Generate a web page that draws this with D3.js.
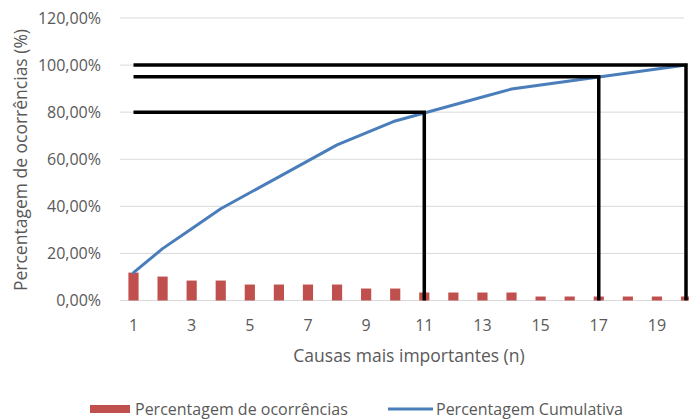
<!DOCTYPE html>
<html>
<head>
<meta charset="utf-8">
<script src="https://cdn.jsdelivr.net/npm/d3@7"></script>
<style>
  body { margin: 0; background: #fff; }
  svg { display: block; font-family: "Open Sans", sans-serif; }
</style>
</head>
<body>
<div id="chart"></div>
<script>
// causes 1..20, share of occurrences (%) and cumulative share (%)
const causes = d3.range(1, 21);
const occurrences = [11.86, 10.17, 8.47, 8.47, 6.78, 6.78, 6.78, 6.78, 5.08, 5.08,
  3.39, 3.39, 3.39, 3.39, 1.69, 1.69, 1.69, 1.69, 1.69, 1.69];
const cumulative = [11.86, 22.03, 30.51, 38.98, 45.76, 52.54, 59.32, 66.1, 71.19, 76.27,
  79.66, 83.05, 86.44, 89.83, 91.53, 93.22, 94.92, 96.61, 98.31, 100];
// reference lines: level (%) reached at cause n
const refLevels = [80, 95, 100];
const refCauses = [11, 17, 20];
const yTicks = [0, 20, 40, 60, 80, 100, 120];
const xTicks = [1, 3, 5, 7, 9, 11, 13, 15, 17, 19];

const width = 689;
const height = 420;

const svg = d3.select("#chart").append("svg")
  .attr("width", width)
  .attr("height", height);

const x = d3.scalePoint().domain(causes).range([133.5, 686]);
const y = d3.scaleLinear().domain([0, 120]).range([300.5, 18]);
const barW = x.step() * 0.35;

const ptLocale = d3.formatLocale({ decimal: ",", thousands: ".", grouping: [3], currency: ["", ""] });
const pct = ptLocale.format(".2f");

// gridlines
svg.append("g")
  .selectAll("line")
  .data(yTicks)
  .join("line")
  .attr("x1", 120).attr("x2", 684)
  .attr("y1", d => y(d)).attr("y2", d => y(d))
  .attr("stroke", "#d9d9d9")
  .attr("stroke-width", 1);

// y tick labels
svg.append("g")
  .selectAll("text")
  .data(yTicks)
  .join("text")
  .attr("x", 101)
  .attr("y", d => y(d))
  .attr("dy", "0.35em")
  .attr("text-anchor", "end")
  .attr("fill", "#595959")
  .attr("font-size", 16)
  .text(d => pct(d) + "%");

// x tick labels
svg.append("g")
  .selectAll("text")
  .data(xTicks)
  .join("text")
  .attr("x", d => x(d))
  .attr("y", 331)
  .attr("text-anchor", "middle")
  .attr("fill", "#595959")
  .attr("font-size", 16)
  .text(d => d);

// bars
svg.append("g")
  .selectAll("rect")
  .data(causes)
  .join("rect")
  .attr("x", d => x(d) - barW / 2)
  .attr("y", (d, i) => y(occurrences[i]))
  .attr("width", barW)
  .attr("height", (d, i) => y(0) - y(occurrences[i]))
  .attr("fill", "#c0504d");

// cumulative line
const line = d3.line()
  .x((d, i) => x(causes[i]))
  .y(d => y(d));

svg.append("path")
  .datum(cumulative)
  .attr("d", line)
  .attr("fill", "none")
  .attr("stroke", "#4a7ebb")
  .attr("stroke-width", 3)
  .attr("stroke-linejoin", "round")
  .attr("stroke-linecap", "round");

// black reference lines
const refs = svg.append("g")
  .attr("stroke", "#000")
  .attr("stroke-width", 3.5)
  .attr("fill", "none");

refLevels.forEach((lvl, i) => {
  refs.append("path")
    .attr("d", d3.line()([
      [x(causes[0]), y(lvl)],
      [x(refCauses[i]), y(lvl)],
      [x(refCauses[i]), y(0)]
    ]));
});

// axis titles
svg.append("text")
  .attr("transform", "translate(27,160) rotate(-90)")
  .attr("text-anchor", "middle")
  .attr("fill", "#595959")
  .attr("font-size", 17.5)
  .text("Percentagem de ocorrências (%)");

svg.append("text")
  .attr("x", 409)
  .attr("y", 362)
  .attr("text-anchor", "middle")
  .attr("fill", "#595959")
  .attr("font-size", 17.5)
  .text("Causas mais importantes (n)");

// legend
const legend = svg.append("g");
legend.append("rect")
  .attr("x", 90).attr("y", 405)
  .attr("width", 40).attr("height", 8)
  .attr("fill", "#c0504d");
legend.append("text")
  .attr("x", 135).attr("y", 409)
  .attr("dy", "0.35em")
  .attr("fill", "#595959")
  .attr("font-size", 16)
  .text("Percentagem de ocorrências");
legend.append("line")
  .attr("x1", 388).attr("x2", 433)
  .attr("y1", 409).attr("y2", 409)
  .attr("stroke", "#4a7ebb")
  .attr("stroke-width", 3);
legend.append("text")
  .attr("x", 436).attr("y", 409)
  .attr("dy", "0.35em")
  .attr("fill", "#595959")
  .attr("font-size", 16)
  .text("Percentagem Cumulativa");
</script>
</body>
</html>
